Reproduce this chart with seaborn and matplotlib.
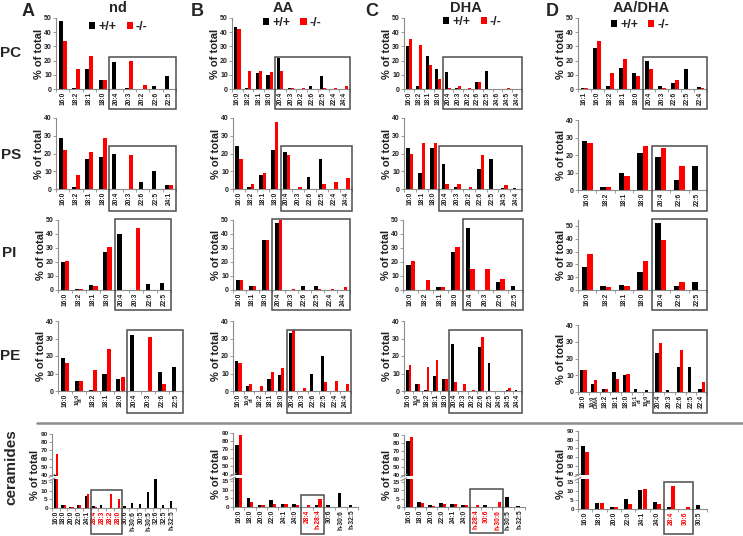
import numpy as np
import pandas as pd
import matplotlib
matplotlib.use("Agg")
import matplotlib.pyplot as plt
import matplotlib.transforms as mtransforms
from matplotlib.patches import Rectangle
from matplotlib.lines import Line2D
import seaborn as sns

# --- A: nd ---
a_pc_fa = ["16:0", "18:2", "18:1", "18:0", "20:4", "20:3", "20:2", "22:6", "22:5"]
a_pc_wt = [48, 1, 14, 6, 19, 1, 0, 2, 9]
a_pc_ko = [34, 14, 23, 6, 0, 20, 3, 0, 0]
a_ps_fa = ["16:0", "18:2", "18:1", "18:0", "20:4", "20:3", "22:6", "22:5", "24:1"]
a_ps_wt = [29, 1, 17, 18, 20, 0, 4, 10, 2]
a_ps_ko = [22, 8, 21, 29, 0, 19, 0, 0, 2]
a_pi_fa = ["16:0", "18:2", "18:1", "18:0", "20:4", "20:3", "22:6", "22:5"]
a_pi_wt = [20, 0.5, 3.5, 27, 40, 0, 4, 5]
a_pi_ko = [21, 1, 3, 31, 0, 44, 0, 0]
a_pe_fa = ["16:0", "16:0\nal", "18:2", "18:1", "18:0", "20:4", "20:3", "22:6", "22:5"]
a_pe_wt = [19, 6, 0.5, 10, 7, 32, 0, 11, 14]
a_pe_ko = [16, 6, 12, 24, 8, 0, 31, 4, 0]
a_cer_fa = ["16:0", "18:0", "20:0", "22:0", "24:1", "28:4", "28:3", "28:2", "28:0",
            "30:6", "h-30:6", "30:5", "h-30:5", "32:6", "32:5", "h-32:5"]
a_cer_wt = [40, 2, 0.5, 1.5, 7, 1, 2, 0, 0, 1, 3, 2.5, 9, 17, 2, 4]
a_cer_ko = [66, 2, 0.5, 2, 8, 0.5, 0, 8, 5, 0, 0, 0, 0, 0, 0, 0]
a_cer_red = ["28:4", "28:3", "28:2", "28:0"]

# --- B: AA ---
b_pc_fa = ["16:0", "18:2", "18:1", "18:0", "20:4", "20:3", "20:2", "22:6", "22:5", "22:4", "24:4"]
b_pc_wt = [44, 1, 11, 10, 22, 0.5, 0, 2, 9, 0, 0]
b_pc_ko = [42, 13, 13, 12, 13, 1, 1, 0, 1, 1, 2]
b_ps_fa = ["16:0", "18:2", "18:1", "18:0", "20:4", "20:3", "22:6", "22:5", "22:4", "24:4"]
b_ps_wt = [24, 1, 8, 22, 21, 0, 7, 17, 0, 0]
b_ps_ko = [17, 3, 9, 38, 19, 1, 0, 3, 4, 6]
b_pi_fa = ["16:0", "18:1", "18:0", "20:4", "20:3", "22:6", "22:5", "22:4", "24:4"]
b_pi_wt = [7, 3, 36, 48, 0, 3, 3, 0, 0]
b_pi_ko = [7, 3, 36, 50, 1, 0, 1, 1, 2]
b_pe_fa = ["16:0", "16:0\nal", "18:2", "18:1", "18:0", "20:4", "20:3", "22:6", "22:5", "22:4", "24:4"]
b_pe_wt = [17, 3, 0, 7, 9, 33, 0, 10, 20, 0, 0]
b_pe_ko = [16, 4, 3, 11, 13, 35, 2, 0, 5, 6, 4]
b_cer_fa = ["16:0", "18:0", "20:0", "22:0", "24:1", "24:0", "28:4", "h-28:4", "30:6", "h-30:6", "h-32:5"]
b_cer_wt = [75, 5, 1, 4, 2, 2, 0, 1, 1, 8, 1]
b_cer_ko = [87, 3, 1, 1.5, 1.5, 1, 1, 4.5, 0, 0, 0]
b_cer_red = ["28:4", "h-28:4"]

# --- C: DHA ---
c_pc_fa = ["16:0", "18:2", "18:1", "18:0", "20:4", "20:3", "20:2", "22:6", "22:5", "24:6", "24:5", "24:4"]
c_pc_wt = [30, 2, 23, 14, 12, 1, 0, 5, 13, 0, 0, 0.3]
c_pc_ko = [35, 31, 17, 7, 0.5, 2, 1, 5, 0, 0, 0.5, 0]
c_ps_fa = ["16:0", "18:1", "18:0", "20:4", "20:3", "20:2", "22:6", "22:5", "24:5", "24:4"]
c_ps_wt = [23, 9, 23, 14, 1, 0, 11, 17, 0.5, 0.5]
c_ps_ko = [20, 26, 26, 3, 3, 1, 19, 0, 2.5, 0]
c_pi_fa = ["16:0", "18:2", "18:1", "18:0", "20:4", "20:3", "22:6", "22:5"]
c_pi_wt = [18, 0, 2, 27, 44, 0, 6, 3]
c_pi_ko = [21, 7.5, 2.5, 31, 15, 15, 8, 0]
c_pe_fa = ["16:0", "16:0\nal", "18:2", "18:1", "18:0", "20:4", "20:3", "20:2", "22:6", "22:5",
           "24:6", "24:5", "24:4"]
c_pe_wt = [12, 4, 0.5, 8.5, 7, 27, 0, 0, 25, 16, 0, 0.5, 0.3]
c_pe_ko = [15, 4, 14, 18, 7, 5, 4, 0.3, 31, 0, 0.2, 1.5, 0]
c_cer_fa = ["16:0", "18:0", "20:0", "22:0", "24:1", "24:0", "h-28:4", "30:6", "h-30:6", "h-30:5", "h-32:5"]
c_cer_wt = [83, 3, 1, 2.5, 1.5, 1, 0, 1, 0, 6, 0.5]
c_cer_ko = [88, 2.5, 0.5, 1.5, 2, 1, 1, 0, 3, 0, 0]
c_cer_red = ["h-28:4", "30:6", "h-30:6"]

# --- D: AA/DHA ---
d_pc_fa = ["16:1", "16:0", "18:2", "18:1", "18:0", "20:4", "20:3", "22:6", "22:5", "22:4"]
d_pc_wt = [1, 29, 2, 15, 11, 20, 2, 4.5, 14, 1.5]
d_pc_ko = [1, 34, 11, 21, 9, 14, 1, 6, 0, 1]
d_ps_fa = ["16:0", "18:2", "18:1", "18:0", "20:4", "22:6", "22:5"]
d_ps_wt = [28, 2, 10, 21, 19, 6, 14]
d_ps_ko = [27, 2, 8, 25, 24, 14, 0]
d_pi_fa = ["16:0", "18:2", "18:1", "18:0", "20:4", "22:6", "22:5"]
d_pi_wt = [18, 3, 4, 14, 52, 3, 6]
d_pi_ko = [28, 2, 3, 23, 39, 6, 0]
d_pe_fa = ["16:0", "16:0\nDMA", "18:2", "18:1", "18:0", "18:1\nal", "18:0\nal",
           "20:4", "20:3", "22:6", "22:5", "22:4"]
d_pe_wt = [13, 5, 2, 12, 10, 2, 1, 23, 1, 15, 15, 2]
d_pe_ko = [13, 7, 2, 8, 11, 0, 0, 29, 0, 25, 0, 6]
d_cer_fa = ["16:0", "18:0", "20:0", "22:0", "24:1", "24:0", "28:4", "30:6", "30:5"]
d_cer_wt = [73, 3.5, 1, 5.5, 10.5, 4, 1, 0, 2]
d_cer_ko = [66, 3.5, 1, 3, 11, 2.5, 12.5, 1, 0]
d_cer_red = ["28:4", "30:6"]

titles = {"A": "nd", "B": "AA", "C": "DHA", "D": "AA/DHA"}
GENO = ["+/+", "-/-"]
PAL = {"+/+": "#000000", "-/-": "#ff0000"}
GRAY = "#8c8c8c"

# --- layout (pixel coords) ---
W, H = 743, 536
col_x = {
    "A": {"PC": (56, 176), "PS": (56, 176), "PI": (58, 171), "PE": (58, 183), "cer": (52, 176)},
    "B": {"PC": (232, 350), "PS": (233, 352), "PI": (233, 350), "PE": (233, 351), "cer": (233, 358)},
    "C": {"PC": (404, 522), "PS": (404, 522), "PI": (403, 523), "PE": (404, 522), "cer": (404, 525)},
    "D": {"PC": (578, 707), "PS": (578, 707), "PI": (578, 707), "PE": (578, 707), "cer": (578, 707)},
}
row_y = {"PC": (18, 89, 50), "PS": (118, 189, 40), "PI": (220, 290, 50), "PE": (321, 391, 40)}
row_y_d = {"PS": (120, 190, 40), "PI": (219.6, 290, 55), "PE": (325, 392, 40)}
box_y = {"PC": (57, 109), "PS": (146, 211), "PI": (219, 310), "PE": (330, 413)}
cer_y = {"A": (434, 508), "B": (433, 507), "C": (435, 507), "D": (431, 509)}
cer_box_y = {"A": (490, 534), "B": (495, 534), "C": (489, 533), "D": (482, 534)}
legend_pos = {"A": (0.52, 0.87), "B": (0.51, 0.93), "C": (0.58, 0.94), "D": (0.48, 0.90)}

panels = [
    ("A", "PC", a_pc_fa, a_pc_wt, a_pc_ko, "20:4"),
    ("A", "PS", a_ps_fa, a_ps_wt, a_ps_ko, "20:4"),
    ("A", "PI", a_pi_fa, a_pi_wt, a_pi_ko, "20:4"),
    ("A", "PE", a_pe_fa, a_pe_wt, a_pe_ko, "20:4"),
    ("B", "PC", b_pc_fa, b_pc_wt, b_pc_ko, "20:4"),
    ("B", "PS", b_ps_fa, b_ps_wt, b_ps_ko, "20:4"),
    ("B", "PI", b_pi_fa, b_pi_wt, b_pi_ko, "20:4"),
    ("B", "PE", b_pe_fa, b_pe_wt, b_pe_ko, "20:4"),
    ("C", "PC", c_pc_fa, c_pc_wt, c_pc_ko, "20:4"),
    ("C", "PS", c_ps_fa, c_ps_wt, c_ps_ko, "20:4"),
    ("C", "PI", c_pi_fa, c_pi_wt, c_pi_ko, "20:4"),
    ("C", "PE", c_pe_fa, c_pe_wt, c_pe_ko, "20:4"),
    ("D", "PC", d_pc_fa, d_pc_wt, d_pc_ko, "20:4"),
    ("D", "PS", d_ps_fa, d_ps_wt, d_ps_ko, "20:4"),
    ("D", "PI", d_pi_fa, d_pi_wt, d_pi_ko, "20:4"),
    ("D", "PE", d_pe_fa, d_pe_wt, d_pe_ko, "20:4"),
]
cer_panels = [
    ("A", a_cer_fa, a_cer_wt, a_cer_ko, a_cer_red),
    ("B", b_cer_fa, b_cer_wt, b_cer_ko, b_cer_red),
    ("C", c_cer_fa, c_cer_wt, c_cer_ko, c_cer_red),
    ("D", d_cer_fa, d_cer_wt, d_cer_ko, d_cer_red),
]

sns.set_theme(style="ticks")
plt.rcParams["font.family"] = ["Liberation Sans", "DejaVu Sans"]
plt.rcParams["font.weight"] = "bold"
plt.rcParams["axes.labelweight"] = "bold"

fig = plt.figure(figsize=(W / 100, H / 100), dpi=100)


def px_axes(l, t, r, b):
    return fig.add_axes([l / W, 1 - b / H, (r - l) / W, (b - t) / H])


def draw_bars(ax, fa, wt, ko, legend=False):
    df = pd.DataFrame({"fa": fa + fa, "pct": wt + ko,
                       "geno": ["+/+"] * len(fa) + ["-/-"] * len(fa)})
    sns.barplot(data=df, x="fa", y="pct", hue="geno", order=fa, hue_order=GENO,
                palette=PAL, saturation=1, width=0.6, errorbar=None,
                linewidth=0, legend=legend, ax=ax)


def style_ax(ax, n, ylim, yticks, ysize=5):
    ax.set_xlim(-0.5, n - 0.5)
    ax.set_ylim(*ylim)
    ax.set_yticks(yticks)
    ax.set_xlabel("")
    ax.set_ylabel("")
    sns.despine(ax=ax)
    for s in ("left", "bottom"):
        ax.spines[s].set_color(GRAY)
        ax.spines[s].set_linewidth(0.8)
    ax.tick_params(axis="y", length=2, width=0.6, color=GRAY, pad=1,
                   labelsize=ysize, labelcolor="#222222")
    ax.tick_params(axis="x", which="major", length=0, pad=2, labelsize=4.8,
                   labelrotation=90, labelcolor="#222222")
    ax.set_xticks(np.arange(n + 1) - 0.5, minor=True)
    ax.tick_params(axis="x", which="minor", length=2, width=0.6, color=GRAY)
    for lbl in ax.get_xticklabels():
        if "\n" in lbl.get_text():
            lbl.set_linespacing(0.7)
            lbl.set_fontsize(4.1)


def draw_box(ax, x0, x1, ytop, ybot, ax_top, ax_bot):
    frac = lambda y: (ax_bot - y) / (ax_bot - ax_top)
    trans = mtransforms.blended_transform_factory(ax.transData, ax.transAxes)
    ax.add_patch(Rectangle((x0, frac(ybot)), x1 - x0, frac(ytop) - frac(ybot),
                           transform=trans, fill=False, ec="#4d4d4d", lw=1.1,
                           clip_on=False, zorder=5))


# --- phospholipid panels ---
for col, row, fa, wt, ko, box_from in panels:
    l, r = col_x[col][row]
    t, b, ymax = row_y_d.get(row, row_y[row]) if col == "D" else row_y[row]
    ax = px_axes(l, t, r, b)
    draw_bars(ax, fa, wt, ko, legend=(row == "PC"))
    n = len(fa)
    style_ax(ax, n, (0, ymax), np.arange(0, min(ymax, 50) + 1, 10))
    ax.set_ylabel("% of total", fontsize=8, fontweight="bold", color="#222222")
    ax.yaxis.set_label_coords(-12 / (r - l), 0.5)
    draw_box(ax, fa.index(box_from) - 0.5, n - 0.5, *box_y[row], t, b)
    if row == "PC":
        sns.move_legend(ax, "center", bbox_to_anchor=legend_pos[col], ncol=2,
                        frameon=False, title=None, fontsize=9, handlelength=0.5,
                        handleheight=0.5, handletextpad=0.25, columnspacing=0.8)

# --- ceramide panels (broken y axis) ---
for col, fa, wt, ko, red in cer_panels:
    l, r = col_x[col]["cer"]
    top, zero = cer_y[col]
    span = zero - top
    up_b = top + 0.565 * span
    lo_t = top + 0.614 * span
    up = px_axes(l, top, r, up_b)
    lo = px_axes(l, lo_t, r, zero)
    n = len(fa)
    for ax in (up, lo):
        draw_bars(ax, fa, wt, ko)
    style_ax(up, n, (39, 90), np.arange(40, 91, 10), ysize=4.6)
    style_ax(lo, n, (0, 16.5), [0, 5, 10, 15], ysize=4.6)
    up.spines["bottom"].set_visible(False)
    up.tick_params(axis="x", which="both", length=0, labelbottom=False)
    for lbl in lo.get_xticklabels():
        if lbl.get_text() in red:
            lbl.set_color("#ff0000")
    lo.set_ylabel("% of total", fontsize=8, fontweight="bold", color="#222222")
    lo.yaxis.set_label_coords(-12 / (r - l), (zero - (top + 0.55 * span)) / (zero - lo_t))
    draw_box(lo, fa.index(red[0]) - 0.5, fa.index(red[-1]) + 0.5, *cer_box_y[col], lo_t, zero)
    for yb in (up_b, lo_t):
        fig.add_artist(Line2D([(l - 3) / W, (l + 3) / W], [1 - (yb + 1.5) / H, 1 - (yb - 1.5) / H],
                              color=GRAY, lw=0.8))

# --- labels ---
for col, x in zip("ABCD", (28, 197, 372, 552)):
    fig.text(x / W, 1 - 11 / H, col, fontsize=13, fontweight="bold", ha="center", va="center")
for col, x in zip("ABCD", (118, 283, 466, 641)):
    fig.text(x / W, 1 - 8 / H, titles[col], fontsize=10.5, fontweight="bold", ha="center", va="center")
for lab, x, y in (("PC", 11, 53), ("PS", 11, 155), ("PI", 9, 253), ("PE", 10, 356)):
    fig.text(x / W, 1 - y / H, lab, fontsize=11, fontweight="bold", ha="center", va="center")
fig.text(11 / W, 1 - 467 / H, "ceramides", fontsize=11, fontweight="bold",
         rotation=90, ha="center", va="center")
fig.add_artist(Line2D([37 / W, 1.0], [1 - 423 / H, 1 - 423 / H], color=GRAY, lw=1.8))

fig.savefig("out.png", dpi=100)
